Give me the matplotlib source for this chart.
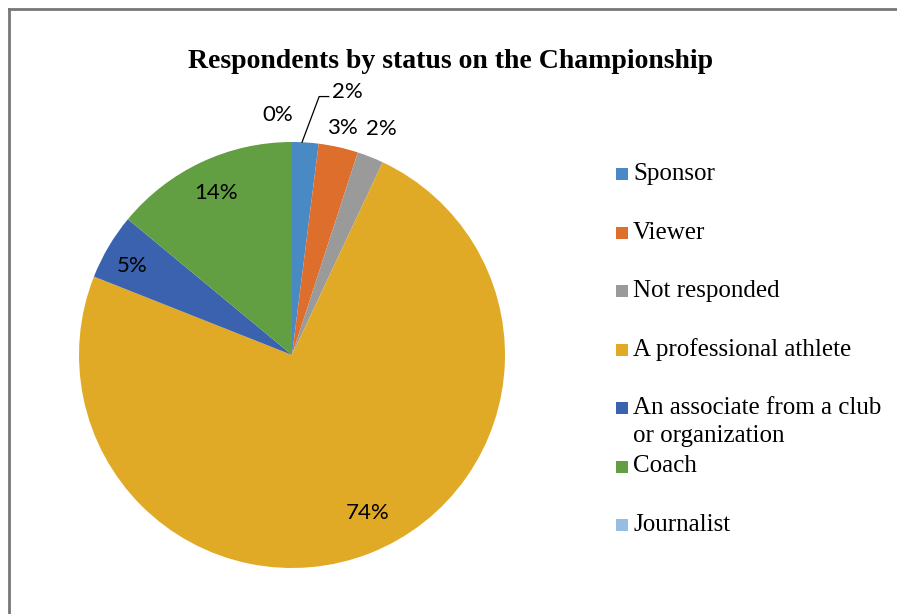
import numpy as np
import matplotlib
matplotlib.use("Agg")
import matplotlib.pyplot as plt
from matplotlib.patches import Rectangle

categories = ["Sponsor", "Viewer", "Not responded", "A professional athlete",
              "An associate from a club\nor organization", "Coach", "Journalist"]
values = [2, 3, 2, 74, 5, 14, 0]
colors = ["#4A8AC4", "#DD6E2C", "#9A9A9A", "#E1AA26", "#3A62AE", "#629E42", "#98BDE3"]

# label radius (fraction of pie radius) and angle nudge (deg) for each slice
label_r = [1.27, 1.09, 1.14, 0.82, 0.86, 0.84, 1.13]
label_da = [0, 0, 0, 4.0, 1.5, 0, 3.4]

W, H = 897, 614
fig = plt.figure(figsize=(W / 100, H / 100), dpi=100)

# border lines on top and left
fig.add_artist(plt.Line2D([8.5 / W, 1], [1 - 8.5 / H, 1 - 8.5 / H], color="#777777", lw=2))
fig.add_artist(plt.Line2D([8.5 / W, 8.5 / W], [0, 1 - 8.5 / H], color="#777777", lw=2))

# pie axes: center (292, 355) px, radius 213 px
cx, cy, R = 292, 355, 213
lim = 1.3
side = 2 * lim * R
ax = fig.add_axes([(cx - side / 2) / W, (H - cy - side / 2) / H, side / W, side / H])
ax.pie(values, colors=colors, startangle=90, counterclock=False, radius=1.0,
       wedgeprops=dict(linewidth=0))
ax.set_xlim(-lim, lim)
ax.set_ylim(-lim, lim)
ax.set_aspect("auto")
ax.axis("off")

lab_font = ["Lato", "DejaVu Sans"]
total = sum(values)
start = 90.0
for i, v in enumerate(values):
    span = 360.0 * v / total
    mid = np.radians(start - span / 2 + label_da[i])
    r = label_r[i]
    txt = "%d%%" % round(100 * v / total)
    if i == 0:
        # sponsor label pulled out with a leader line
        a0 = np.radians(start - span / 2 + 0.9)
        a1 = np.radians(84.0)
        p0 = (np.cos(a0), np.sin(a0))
        p1 = (1.22 * np.cos(a1), 1.22 * np.sin(a1))
        p2 = (p1[0] + 0.045, p1[1])
        ax.plot([p0[0], p1[0], p2[0]], [p0[1], p1[1], p2[1]], color="black", lw=0.9)
        ax.text(p2[0] + 0.015, p2[1] + 0.02, txt, ha="left", va="center",
                fontsize=16, family=lab_font)
    else:
        ax.text(r * np.cos(mid), r * np.sin(mid), txt, ha="center", va="center",
                fontsize=16, family=lab_font)
    start -= span

fig.text(451 / W, 1 - 61 / H, "Respondents by status on the Championship",
         ha="center", va="center", fontsize=20, fontweight="bold",
         family="Liberation Serif")

# legend
leg_y0, pitch = 174, 58.5
for i, (name, c) in enumerate(zip(categories, colors)):
    y = leg_y0 + pitch * i
    fig.add_artist(Rectangle((616 / W, 1 - (y + 6) / H), 12 / W, 12 / H,
                             transform=fig.transFigure, facecolor=c, edgecolor="none"))
    for j, line in enumerate(name.split("\n")):
        fig.text(633 / W, 1 - (y + 28 * j) / H, line, ha="left", va="center",
                 fontsize=18, family="Liberation Serif")

fig.savefig("out.png", dpi=100, facecolor="white")
